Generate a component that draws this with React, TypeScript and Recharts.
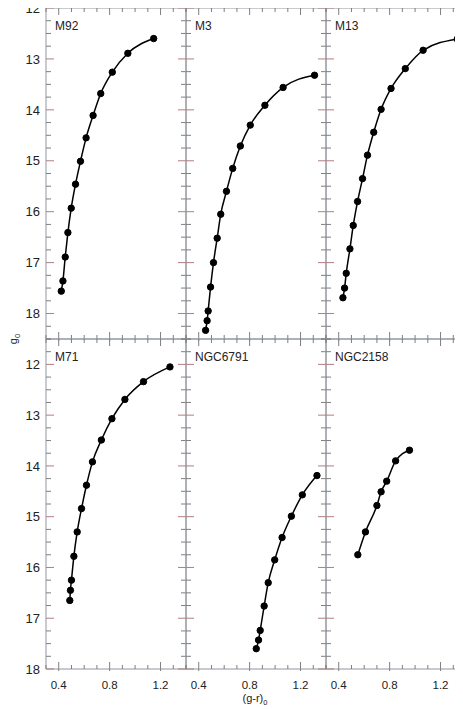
import React from 'react';
import { LineChart, Line, XAxis, YAxis, ReferenceLine } from 'recharts';

// fiducial sequences, faint end -> bright end
const M92_COLOR = [0.42, 0.433, 0.451, 0.472, 0.498, 0.532, 0.571, 0.615, 0.67, 0.73, 0.821, 0.943, 1.146];
const M92_MAG = [17.56, 17.36, 16.89, 16.41, 15.93, 15.46, 15.01, 14.55, 14.11, 13.68, 13.26, 12.89, 12.6];

const M3_COLOR = [0.454, 0.466, 0.474, 0.493, 0.516, 0.545, 0.573, 0.618, 0.667, 0.727, 0.805, 0.92, 1.063, 1.31];
const M3_MAG = [18.33, 18.14, 17.95, 17.48, 17.0, 16.52, 16.05, 15.6, 15.15, 14.71, 14.3, 13.91, 13.56, 13.32];

const M13_COLOR = [0.433, 0.446, 0.459, 0.488, 0.514, 0.548, 0.587, 0.626, 0.675, 0.733, 0.811, 0.923, 1.063, 1.331];
const M13_MAG = [17.69, 17.5, 17.21, 16.73, 16.27, 15.8, 15.35, 14.89, 14.44, 13.99, 13.58, 13.19, 12.83, 12.61];

const M71_COLOR = [0.487, 0.492, 0.5, 0.519, 0.545, 0.579, 0.618, 0.665, 0.735, 0.818, 0.92, 1.066, 1.274];
const M71_MAG = [16.65, 16.45, 16.25, 15.78, 15.3, 14.84, 14.38, 13.92, 13.49, 13.07, 12.69, 12.34, 12.05];

const NGC6791_COLOR = [0.852, 0.87, 0.883, 0.914, 0.946, 0.997, 1.055, 1.128, 1.214, 1.329];
const NGC6791_MAG = [17.6, 17.43, 17.24, 16.76, 16.3, 15.85, 15.41, 14.99, 14.57, 14.19];

const NGC2158_COLOR = [0.55, 0.61, 0.7, 0.733, 0.777, 0.847, 0.956];
const NGC2158_MAG = [15.75, 15.3, 14.78, 14.51, 14.3, 13.9, 13.69];

const PANEL_NAMES = ['M92', 'M3', 'M13', 'M71', 'NGC6791', 'NGC2158'];
const Y_LABELS = [12, 13, 14, 15, 16, 17, 18];
const X_LABELS = [0.4, 0.8, 1.2];
const X_DOMAIN = [0.3, 1.4];
const Y_DOMAIN_TOP = [12, 18.5];
const Y_DOMAIN_BOTTOM = [11.5, 18];

const SERIES = [
  [M92_COLOR, M92_MAG],
  [M3_COLOR, M3_MAG],
  [M13_COLOR, M13_MAG],
  [M71_COLOR, M71_MAG],
  [NGC6791_COLOR, NGC6791_MAG],
  [NGC2158_COLOR, NGC2158_MAG],
];

// layout (page pixels)
const PLOT_W = 140;
const LEFTS = [46, 186, 326];
const TOPS = [8, 339];
const HEIGHTS = [331, 330];
const YW = 40;
const MT = 8;
const MR = 3;
const XH = 40;

const FRAME = '#8f979f';
const TICK = '#7f7f7f';
const TICK_MAJOR_Y = '#b07f7f';
const FONT = '"Liberation Sans", Arial, sans-serif';

const steps = (lo: number, hi: number, step: number) =>
  Array.from({ length: Math.round((hi - lo) / step) + 1 }, (_, i) => +(lo + i * step).toFixed(2));

const X_TICKS = steps(0.3, 1.4, 0.1);

const isLabel = (list: number[], v: number) => list.some((l) => Math.abs(l - v) < 1e-6);

const makeYTick = (showLabel: boolean) => (props: any) => {
  const { x, y, payload } = props;
  const v = payload.value;
  const major = Number.isInteger(v);
  const len = major ? 8 : 5;
  const stroke = major ? TICK_MAJOR_Y : TICK;
  return (
    <g>
      <line x1={x} y1={y} x2={x + len} y2={y} stroke={stroke} strokeWidth={1} />
      <line x1={x + PLOT_W} y1={y} x2={x + PLOT_W - len} y2={y} stroke={stroke} strokeWidth={1} />
      {showLabel && isLabel(Y_LABELS, v) && (
        <text x={x - 6} y={y} dy="0.36em" textAnchor="end" fontSize={13} fontFamily={FONT} fill="#222">
          {v}
        </text>
      )}
    </g>
  );
};

const makeXTick = (showLabel: boolean, plotH: number) => (props: any) => {
  const { x, y, payload } = props;
  const v = payload.value;
  const major = isLabel(X_LABELS, v);
  const len = major ? 7 : 4;
  return (
    <g>
      <line x1={x} y1={y + (major ? 2 : 0)} x2={x} y2={y - len} stroke={TICK} strokeWidth={1} />
      <line x1={x} y1={y - plotH} x2={x} y2={y - plotH + len} stroke={TICK} strokeWidth={1} />
      {showLabel && major && (
        <text x={x} y={y + 16} dy="0.36em" textAnchor="middle" fontSize={11.5} fontFamily={FONT} fill="#222">
          {v.toFixed(1)}
        </text>
      )}
    </g>
  );
};

function Panel({ index }: { index: number }) {
  const col = index % 3;
  const row = Math.floor(index / 3);
  const plotH = HEIGHTS[row];
  const yDomain = row === 0 ? Y_DOMAIN_TOP : Y_DOMAIN_BOTTOM;
  const yTicks = steps(yDomain[0], yDomain[1], 0.25);
  const [colors, mags] = SERIES[index];
  const data = colors.map((c, i) => ({ x: c, y: mags[i] }));

  return (
    <div
      style={{
        position: 'absolute',
        left: LEFTS[col] - YW,
        top: TOPS[row] - MT,
        width: YW + PLOT_W + MR,
        height: MT + plotH + XH,
      }}
    >
      <LineChart
        width={YW + PLOT_W + MR}
        height={MT + plotH + XH}
        data={data}
        margin={{ top: MT, right: MR, bottom: 0, left: 0 }}
      >
        <XAxis
          type="number"
          dataKey="x"
          domain={X_DOMAIN}
          ticks={X_TICKS}
          interval={0}
          allowDataOverflow
          height={XH}
          tickSize={0}
          tickMargin={0}
          tickLine={false}
          axisLine={{ stroke: FRAME }}
          tick={makeXTick(row === 1, plotH)}
        />
        <YAxis
          type="number"
          dataKey="y"
          domain={yDomain}
          reversed
          ticks={yTicks}
          interval={0}
          allowDataOverflow
          width={YW}
          tickSize={0}
          tickMargin={0}
          tickLine={false}
          axisLine={{ stroke: FRAME }}
          tick={makeYTick(col === 0)}
        />
        <ReferenceLine y={yDomain[0]} stroke={FRAME} />
        <ReferenceLine x={X_DOMAIN[1]} stroke={FRAME} />
        <Line
          type="monotone"
          dataKey="y"
          stroke="#000"
          strokeWidth={1.5}
          dot={{ r: 3.2, fill: '#000', stroke: '#000', strokeWidth: 1 }}
          activeDot={false}
          isAnimationActive={false}
        />
      </LineChart>
      <div
        style={{
          position: 'absolute',
          left: YW + 9,
          top: MT + 12,
          fontFamily: FONT,
          fontSize: 12,
          lineHeight: '12px',
          color: '#222',
          whiteSpace: 'nowrap',
        }}
      >
        {PANEL_NAMES[index]}
      </div>
    </div>
  );
}

export default function App() {
  return (
    <div
      style={{
        position: 'relative',
        margin: '-8px 0 0 -8px',
        width: 463,
        height: 709,
        overflow: 'hidden',
        background: '#fff',
      }}
    >
      {PANEL_NAMES.map((_, i) => (
        <Panel key={i} index={i} />
      ))}
      <svg style={{ position: 'absolute', left: 0, top: 0 }} width={463} height={709} pointerEvents="none">
        <text
          x={13}
          y={339}
          transform="rotate(-90 13 339)"
          textAnchor="middle"
          dy="0.36em"
          fontSize={11}
          fontFamily={FONT}
          fill="#222"
        >
          g<tspan fontSize={7.5} dy={3}>0</tspan>
        </text>
        <text x={255} y={698} textAnchor="middle" dy="0.36em" fontSize={11} fontFamily={FONT} fill="#222">
          (g-r)<tspan fontSize={7.5} dy={3}>0</tspan>
        </text>
      </svg>
    </div>
  );
}
